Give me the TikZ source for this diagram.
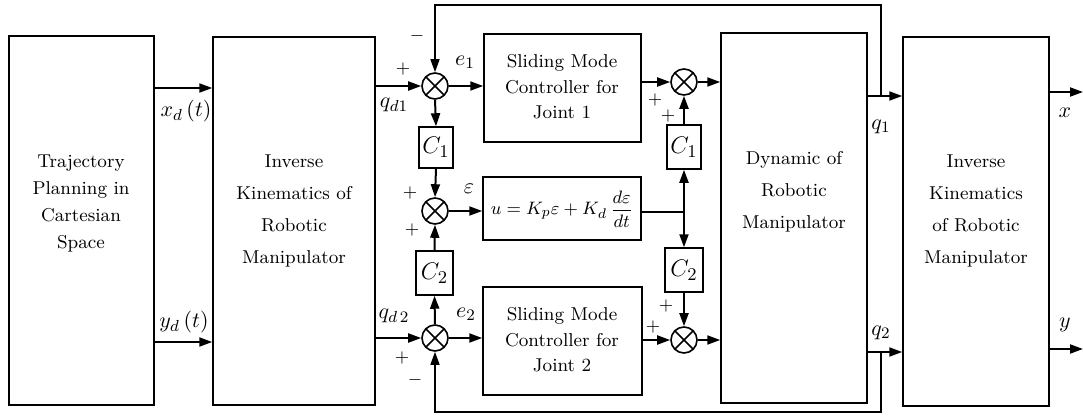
\documentclass[tikz,border=0pt]{standalone}
\usetikzlibrary{arrows.meta,fit,calc}
\begin{document}
\begin{tikzpicture}[x=0.5pt,y=-0.5pt,
 box/.style={draw,line width=0.75pt,inner sep=0pt},
 arr/.style={line width=1pt,-{Triangle[length=6.5pt,width=4.5pt]}},
 ln/.style={line width=0.75pt},
 sum/.style={circle,draw,line width=0.8pt,minimum size=13pt,inner sep=0pt,
   path picture={\draw[line width=0.8pt] (path picture bounding box.north west)--(path picture bounding box.south east)
     (path picture bounding box.north east)--(path picture bounding box.south west);}},
 txt/.style={font=\fontsize{9.3}{16}\selectfont,align=center,inner sep=0pt},
 lab/.style={font=\fontsize{11}{13}\selectfont,inner sep=0pt},
 cl/.style={font=\fontsize{12.5}{14}\selectfont,inner sep=0pt},
 sg/.style={font=\fontsize{9}{10}\selectfont,inner sep=0pt}]
\useasboundingbox (0,0) rectangle (1083,419);

% blocks
\node[box,fit={(9,36) (154,405)}] (A) {};
\node[box,fit={(213,37) (375,405)}] (B) {};
\node[box,fit={(484,34) (641,142)}] (S1) {};
\node[box,fit={(483,287) (642,395)}] (S2) {};
\node[box,fit={(483,177) (641,240)}] (PD) {};
\node[box,fit={(721,33) (867,403)}] (D) {};
\node[box,fit={(903,37) (1049,406)}] (K) {};
\node[box,fit={(419,127) (453,168)}] (C1L) {};
\node[box,fit={(667,125) (701,169)}] (C1R) {};
\node[box,fit={(416,251) (453,295)}] (C2L) {};
\node[box,fit={(665,248) (703,292)}] (C2R) {};

% block texts
\node[txt,font=\fontsize{9.3}{13.5}\selectfont] (tA) at (81,204) {Trajectory\\Planning in\\Cartesian\\Space};
\node[txt] (tB) at (294,211) {Inverse\\Kinematics of\\Robotic\\Manipulator};
\node[txt,font=\fontsize{9.3}{12.75}\selectfont] (tS1) at (562,87) {Sliding Mode\\Controller for\\Joint 1};
\node[txt,font=\fontsize{9.3}{12.75}\selectfont] (tS2) at (562,340) {Sliding Mode\\Controller for\\Joint 2};
\node[txt] (tD) at (794,192) {Dynamic of\\Robotic\\Manipulator};
\node[txt] (tK) at (976,211) {Inverse\\Kinematics\\of Robotic\\Manipulator};
\node[lab,font=\fontsize{9.4}{12}\selectfont] (tPD) at (562,209) {$u=K_{p}\varepsilon+K_{d}\,\displaystyle\frac{d\varepsilon}{dt}$};
\node[cl] at (C1L) {$C_1$};
\node[cl] at (C1R) {$C_1$};
\node[cl] at (C2L) {$C_2$};
\node[cl] at (C2R) {$C_2$};

% summing junctions
\node[sum] (s1) at (435,86) {};
\node[sum] (sm) at (435,211) {};
\node[sum] (s4) at (435,338) {};
\node[sum] (s2) at (684,82) {};
\node[sum] (s3) at (684,340) {};

\coordinate (j) at (684,212);
\coordinate (fb1) at (881,96);
\coordinate (fb2) at (881,352);
\coordinate (xo) at (1083,92);
\coordinate (yo) at (1083,349);

% connectors
\draw[arr] (A.east|-0,88) -- (B.west|-0,88);
\draw[arr] (A.east|-0,342) -- (B.west|-0,342);
\draw[arr] (B.east|-s1) -- (s1.west);
\draw[arr] ([xshift=-1pt]B.east|-s4) -- (s4.west);
\draw[arr] (s1.east) -- (S1.west|-s1);
\draw[arr] (s4.east) -- (S2.west|-s4);
\draw[arr] (s1.south) -- (C1L.north);
\draw[arr] (C1L.south) -- (sm.north);
\draw[arr] (s4.north) -- (C2L.south);
\draw[arr] (C2L.north) -- (sm.south);
\draw[arr] (sm.east) -- (PD.west|-sm);
\draw[ln] (PD.east|-j) -- (j);
\draw[arr] (j) -- (C1R.south);
\draw[arr] (j) -- (C2R.north);
\draw[arr] (C1R.north) -- (s2.south);
\draw[arr] (C2R.south) -- (s3.north);
\draw[arr] (S1.east|-s2) -- (s2.west);
\draw[arr] (S2.east|-s3) -- (s3.west);
\draw[arr] (s2.east) -- (D.west|-s2);
\draw[arr] (s3.east) -- (D.west|-s3);
\draw[arr] (D.east|-fb1) -- (K.west|-fb1);
\draw[arr] (D.east|-fb2) -- (K.west|-fb2);
\draw[arr] (K.east|-xo) -- (xo);
\draw[arr] (K.east|-yo) -- (yo);
\draw[ln,-{Triangle[length=6.5pt,width=4.5pt]}] (fb1) -- (fb1|-0,5) -| (s1.north);
\draw[ln,-{Triangle[length=6.5pt,width=4.5pt]}] (fb2) -- (fb2|-0,412) -| (s4.south);

% signal labels
\node[lab] at (186,111) {$x_d\,(t)$};
\node[lab] at (184,322) {$y_d\,(t)$};
\node[lab] at (394,105) {$q_{d1}$};
\node[lab] at (394,316) {$q_{d\,2}$};
\node[lab] at (465,62) {$e_1$};
\node[lab] at (466,314) {$e_2$};
\node[lab] at (469,189) {$\varepsilon$};
\node[lab] at (881,127) {$q_1$};
\node[lab] at (881,333) {$q_2$};
\node[lab] at (1065,113) {$x$};
\node[lab] at (1065,325) {$y$};

% signs
\node[sg] at (403,69) {$+$};
\node[sg] at (417,36) {$-$};
\node[sg] at (410,193) {$+$};
\node[sg] at (412,230) {$+$};
\node[sg] at (402,358) {$+$};
\node[sg] at (415,380) {$-$};
\node[sg] at (655,100) {$+$};
\node[sg] at (668,116) {$+$};
\node[sg] at (666,306) {$+$};
\node[sg] at (653,327) {$+$};
\end{tikzpicture}
\end{document}
